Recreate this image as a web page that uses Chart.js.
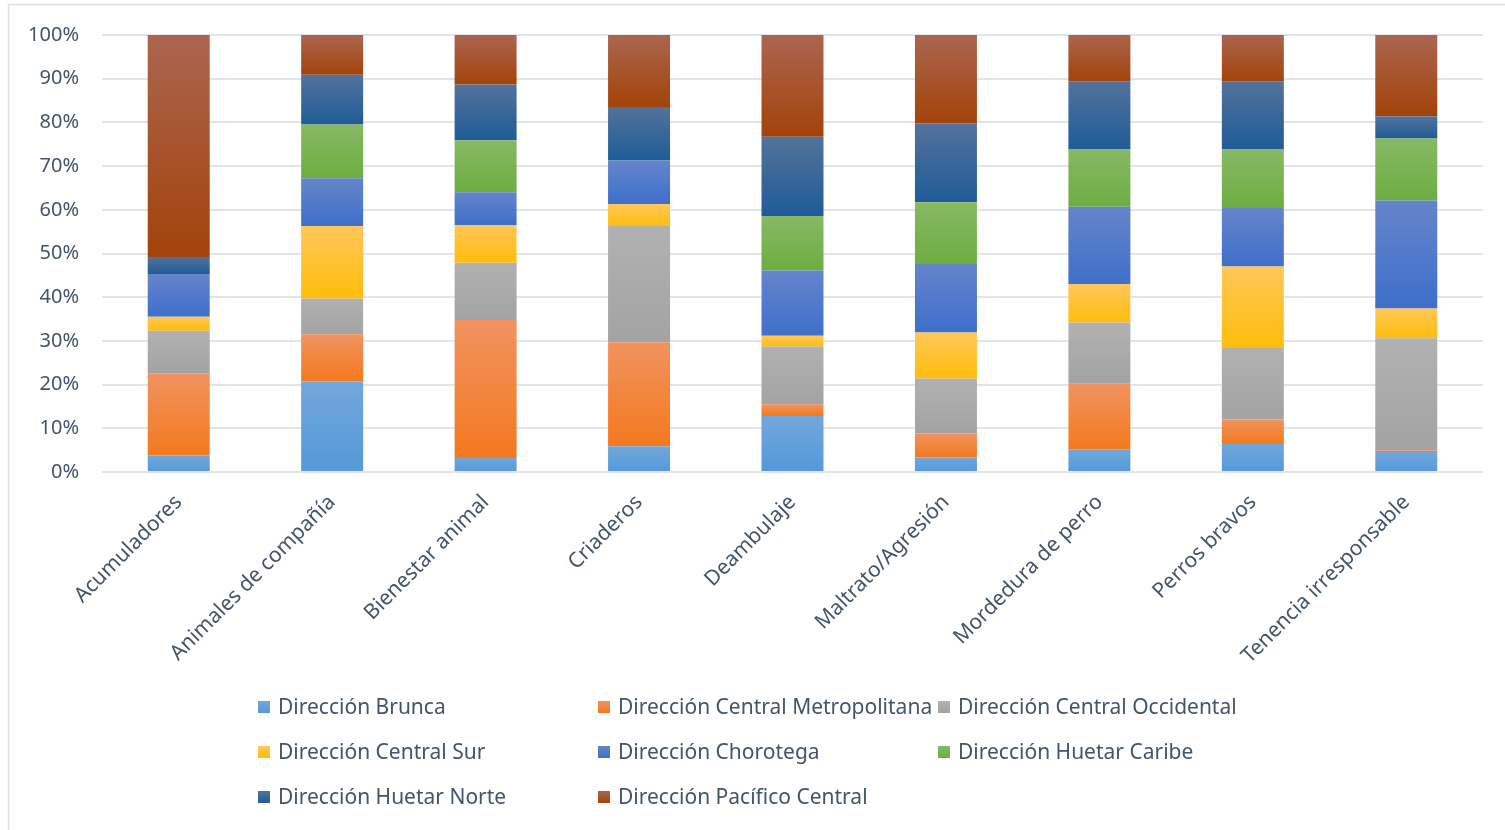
<!DOCTYPE html>
<html>
<head>
<meta charset="utf-8">
<script src="https://cdn.jsdelivr.net/npm/chart.js@4.4.1/dist/chart.umd.min.js"></script>
<style>
  html, body { margin: 0; padding: 0; background: #fff; overflow: hidden; }
  #wrap { position: relative; width: 1505px; height: 830px; }
  canvas { position: absolute; left: 0; top: 0; }
</style>
</head>
<body>
<div id="wrap"><canvas id="chart" width="1505" height="830"></canvas></div>
<script>
// categorias (eje x)
const categories = [
  'Acumuladores', 'Animales de compañía', 'Bienestar animal', 'Criaderos', 'Deambulaje',
  'Maltrato/Agresión', 'Mordedura de perro', 'Perros bravos', 'Tenencia irresponsable'
];

// porcentaje de cada dirección por categoría
const brunca        = [3.8, 20.7, 3.2, 5.9, 12.8, 3.3, 5.2, 6.4, 4.6];
const metropolitana = [18.8, 10.8, 31.6, 23.8, 2.7, 5.5, 15.0, 5.6, 0.4];
const occidental    = [9.7, 8.2, 13.1, 26.6, 13.2, 12.6, 14.0, 16.4, 25.6];
const centralSur    = [3.2, 16.6, 8.6, 5.0, 2.5, 10.5, 8.8, 18.6, 6.8];
const chorotega     = [9.8, 10.9, 7.5, 10.0, 14.9, 15.7, 17.7, 13.4, 24.7];
const huetarCaribe  = [0, 12.3, 11.9, 0, 12.5, 14.1, 13.1, 13.4, 14.2];
const huetarNorte   = [3.9, 11.4, 12.8, 12.2, 18.1, 18.1, 15.6, 15.6, 5.1];
const pacifico      = [50.8, 9.1, 11.3, 16.5, 23.3, 20.2, 10.6, 10.6, 18.6];

const yTicks = [0, 10, 20, 30, 40, 50, 60, 70, 80, 90, 100];

const seriesNames = [
  'Dirección Brunca', 'Dirección Central Metropolitana', 'Dirección Central Occidental',
  'Dirección Central Sur', 'Dirección Chorotega', 'Dirección Huetar Caribe',
  'Dirección Huetar Norte', 'Dirección Pacífico Central'
];
const seriesValues = [brunca, metropolitana, occidental, centralSur, chorotega, huetarCaribe, huetarNorte, pacifico];

// degradado estilo Excel: claro arriba, más saturado abajo
const colorTop    = ['#72a7db', '#f09360', '#b1b1b1', '#ffc75a', '#6585ca', '#88b866', '#53729b', '#ab6550'];
const colorBottom = ['#5499d9', '#f4791f', '#a3a3a3', '#ffbd0a', '#3e6fca', '#6cae40', '#1f5c97', '#a3430a'];

const TEXT = '#44546a';
const FONT = "'Noto Sans', sans-serif";

// apilado al 100 %
const totals = categories.map((_, i) => seriesValues.reduce((s, arr) => s + arr[i], 0));
const shares = seriesValues.map(arr => arr.map((v, i) => v / totals[i] * 100));

function segmentFill(c) {
  const d = c.datasetIndex;
  const chart = c.chart;
  const y = chart.scales && chart.scales.y;
  if (!chart.chartArea || !y || c.type !== 'data') return colorBottom[d];
  const i = c.dataIndex;
  let start = 0;
  for (let k = 0; k < d; k++) start += shares[k][i];
  const end = start + shares[d][i];
  const yTop = y.getPixelForValue(end);
  const yBot = y.getPixelForValue(start);
  if (!(yBot > yTop)) return colorBottom[d];
  const g = chart.ctx.createLinearGradient(0, yTop, 0, yBot);
  g.addColorStop(0, colorTop[d]);
  g.addColorStop(1, colorBottom[d]);
  return g;
}

// marco del gráfico y leyenda en rejilla de 3 columnas
const frameAndLegend = {
  id: 'frameAndLegend',
  beforeDraw(chart) {
    const ctx = chart.ctx;
    ctx.save();
    ctx.strokeStyle = '#dde1e7';
    ctx.lineWidth = 1.5;
    ctx.beginPath();
    ctx.moveTo(8.5, 830);
    ctx.lineTo(8.5, 4.5);
    ctx.lineTo(1505, 4.5);
    ctx.stroke();
    ctx.restore();
  },
  afterDraw(chart) {
    const ctx = chart.ctx;
    const cols = [258, 598, 938];
    const rows = [707, 752, 797];
    ctx.save();
    ctx.font = '21px ' + FONT;
    ctx.textBaseline = 'middle';
    seriesNames.forEach((name, k) => {
      const x = cols[k % 3];
      const y = rows[Math.floor(k / 3)];
      const g = ctx.createLinearGradient(0, y - 6, 0, y + 6);
      g.addColorStop(0, colorTop[k]);
      g.addColorStop(1, colorBottom[k]);
      ctx.fillStyle = g;
      ctx.fillRect(x, y - 6, 12, 12);
      ctx.fillStyle = TEXT;
      ctx.fillText(name, x + 20, y + 1);
    });
    ctx.restore();
  }
};

const ctx = document.getElementById('chart').getContext('2d');
new Chart(ctx, {
  type: 'bar',
  data: {
    labels: categories,
    datasets: seriesNames.map((name, k) => ({
      label: name,
      data: shares[k],
      backgroundColor: segmentFill,
      borderWidth: 0,
      barPercentage: 0.404,
      categoryPercentage: 1,
    })),
  },
  options: {
    responsive: false,
    animation: false,
    devicePixelRatio: 1,
    layout: {
      padding: { left: 10, top: 31, right: 22, bottom: 158 },
    },
    plugins: {
      legend: { display: false },
      tooltip: { enabled: false },
    },
    scales: {
      x: {
        stacked: true,
        grid: { display: false },
        border: { display: false },
        ticks: {
          autoSkip: false,
          minRotation: 45,
          maxRotation: 45,
          padding: 10,
          color: TEXT,
          font: { family: FONT, size: 21 },
        },
        afterFit(scale) { scale.height = 200; },
      },
      y: {
        stacked: true,
        min: 0,
        max: 100,
        afterBuildTicks(scale) { scale.ticks = yTicks.map(v => ({ value: v })); },
        grid: { color: '#e1e5eb', lineWidth: 2, drawTicks: false },
        border: { display: false },
        ticks: {
          padding: 23,
          color: TEXT,
          font: { family: FONT, size: 20 },
          callback: v => v + '%',
        },
        afterFit(scale) { scale.width = 92; },
      },
    },
  },
  plugins: [frameAndLegend],
});
</script>
</body>
</html>
